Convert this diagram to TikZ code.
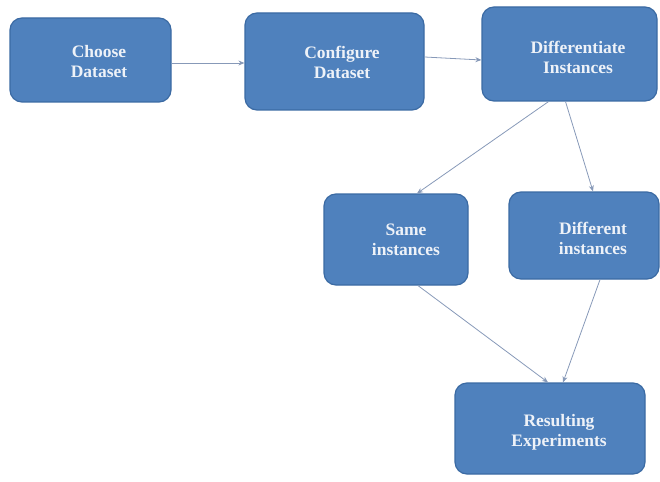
\documentclass[tikz,border=0pt]{standalone}
\usepackage{fontspec}
\setmainfont{Liberation Serif}
\usetikzlibrary{calc,arrows.meta}
\definecolor{boxfill}{HTML}{4F81BD}
\definecolor{boxedge}{HTML}{3B6AA3}
\definecolor{txt}{HTML}{EEF2F8}
\definecolor{arr}{HTML}{8799B8}
\tikzset{
  box/.style={draw=boxedge, line width=1.2pt, fill=boxfill, rounded corners=12pt, inner sep=0pt},
  lbl/.style={text=txt, font=\bfseries\fontsize{17.5}{20}\selectfont, align=center, inner sep=0pt},
  conn/.style={draw=arr, line width=0.8pt, -{Stealth[length=6pt,width=5pt]}}
}
\begin{document}
\begin{tikzpicture}[x=1pt,y=-1pt]
\useasboundingbox (0,0) rectangle (660,481);
\node[box, minimum width=161pt, minimum height=84pt] (b1) at (90.5,60) {};
\node[box, minimum width=179pt, minimum height=97pt] (b2) at (334.5,61.5) {};
\node[box, minimum width=175pt, minimum height=94pt] (b3) at (569.5,54) {};
\node[box, minimum width=144pt, minimum height=91pt] (b4) at (396,239.5) {};
\node[box, minimum width=150pt, minimum height=87pt] (b5) at (584,235.5) {};
\node[box, minimum width=190pt, minimum height=91pt] (b6) at (550,428.5) {};
\node[lbl] (t1) at (99,62) {Choose\\Dataset};
\node[lbl] (t2) at (342,62) {Configure\\Dataset};
\node[lbl] (t3) at (578,57) {Differentiate\\Instances};
\node[lbl] (t4) at (406,240) {Same\\instances};
\node[lbl] (t5) at (593,238) {Different\\instances};
\node[lbl] (t6) at (559,432) {Resulting\\Experiments};
\draw[conn] ($(b1.east)+(0,3)$) -- ($(b2.west)+(0,1.5)$);
\draw[conn] ($(b2.east)+(0,-4.5)$) -- ($(b3.west)+(0,6)$);
\draw[conn] ($(b3.south)+(-21,0)$) -- ($(b4.north)+(21,0)$);
\draw[conn] ($(b3.south)+(-4,0)$) -- ($(b5.north)+(9,0)$);
\draw[conn] ($(b4.south)+(22,0)$) -- ($(b6.north)+(-2,0)$);
\draw[conn] ($(b5.south)+(16,0)$) -- ($(b6.north)+(13,0)$);
\end{tikzpicture}
\end{document}
